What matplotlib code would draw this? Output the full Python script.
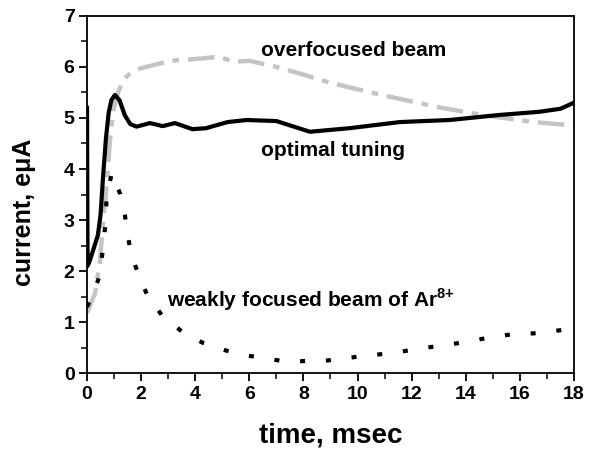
import matplotlib
matplotlib.use("Agg")
import matplotlib.pyplot as plt
from matplotlib.ticker import MultipleLocator

# optimal tuning (solid black)
t_opt = [0, 0.02, 0.1, 0.25, 0.4, 0.5, 0.6, 0.7, 0.8, 0.9, 1.03, 1.2, 1.4, 1.6, 1.83,
         2.33, 2.8, 3.25, 3.9, 4.4, 5.2, 5.9, 7.0, 8.24, 9.7, 11.57, 13.4, 15.26, 16.7, 17.5, 18]
i_opt = [5.2, 2.1, 2.2, 2.45, 2.7, 3.1, 3.9, 4.6, 5.1, 5.35, 5.45, 5.35, 5.05, 4.88, 4.83,
         4.9, 4.84, 4.9, 4.78, 4.8, 4.92, 4.96, 4.94, 4.73, 4.8, 4.92, 4.96, 5.06, 5.12, 5.18, 5.3]

# overfocused beam (grey dash-dot)
t_over = [0, 0.3, 0.48, 0.6, 0.73, 0.85, 0.97, 1.15, 1.35, 1.6, 1.97, 2.7, 3.3, 3.9, 4.9,
          5.4, 6.0, 7.0, 8.0, 8.98, 10.9, 12.9, 14.6, 16.5, 17.85, 18]
i_over = [1.18, 1.57, 2.2, 3.0, 3.7, 4.57, 5.15, 5.5, 5.75, 5.88, 5.97, 6.07, 6.13, 6.15, 6.2,
          6.1, 6.12, 6.0, 5.85, 5.69, 5.45, 5.22, 5.06, 4.92, 4.86, 4.88]

# weakly focused beam (dotted black)
t_weak = [0, 0.18, 0.48, 0.67, 0.73, 0.92, 1.22, 1.4, 1.5, 1.66, 1.93, 2.25, 2.82, 3.55, 4.3,
          5.1, 5.84, 6.65, 7.4, 8.1, 8.9, 9.65, 10.46, 11.2, 11.94, 12.68, 13.5, 14.2, 14.97,
          15.7, 16.5, 17.2, 18]
i_weak = [1.3, 1.5, 1.92, 2.86, 3.5, 3.92, 3.52, 3.1, 2.7, 2.28, 1.9, 1.5, 1.1, 0.8, 0.59,
          0.45, 0.35, 0.29, 0.22, 0.24, 0.25, 0.3, 0.35, 0.39, 0.45, 0.51, 0.57, 0.63, 0.71,
          0.76, 0.78, 0.82, 0.88]

plt.rcParams["font.family"] = ["Liberation Sans", "DejaVu Sans"]
plt.rcParams["font.weight"] = "bold"
plt.rcParams["mathtext.fontset"] = "custom"
plt.rcParams["mathtext.rm"] = "Liberation Sans:bold"
plt.rcParams["mathtext.bf"] = "Liberation Sans:bold"

fig = plt.figure(figsize=(5.96, 4.54), dpi=100)
ax = fig.add_axes([0.146, 0.178, 0.817, 0.787])

ax.plot(t_over, i_over, color="#c4c4c4", lw=3.2, linestyle=(0, (6, 2, 1.5, 2)))
ax.plot(t_weak, i_weak, color="black", lw=3, linestyle=(0, (1.2, 5)))
ax.plot(t_opt, i_opt, color="black", lw=3)

ax.text(6.43, 6.33, "overfocused beam", fontsize=15, fontweight="bold", va="center")
ax.text(6.43, 4.37, "optimal tuning", fontsize=15, fontweight="bold", va="center")
ax.text(2.96, 1.43, r"weakly focused beam of Ar$^{\mathbf{8{+}}}$", fontsize=15,
        fontweight="bold", va="center")

ax.set_xlim(0, 18)
ax.set_ylim(0, 7)
ax.xaxis.set_major_locator(MultipleLocator(2))
ax.xaxis.set_minor_locator(MultipleLocator(1))
ax.yaxis.set_major_locator(MultipleLocator(1))
ax.yaxis.set_minor_locator(MultipleLocator(0.5))
ax.tick_params(which="major", length=6, width=1.3, labelsize=14, pad=3)
ax.tick_params(which="minor", length=4, width=1.1)
for lab in ax.get_xticklabels() + ax.get_yticklabels():
    lab.set_fontweight("bold")
for s in ax.spines.values():
    s.set_linewidth(1.3)

ax.set_xlabel("time, msec", fontsize=20, fontweight="bold", labelpad=14)
ax.set_ylabel("current, e\u03bcA", fontsize=18, fontweight="bold")
ax.yaxis.set_label_coords(-0.105, 0.45)

fig.savefig("out.png", dpi=100)
